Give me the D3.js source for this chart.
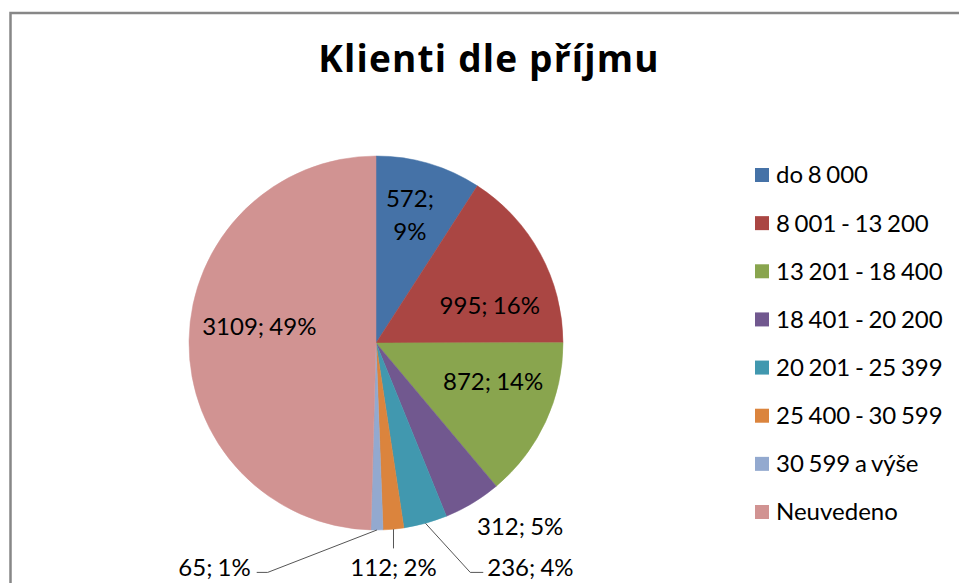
<!DOCTYPE html>
<html>
<head>
<meta charset="utf-8">
<script src="https://cdn.jsdelivr.net/npm/d3@7"></script>
<style>
  html, body { margin: 0; padding: 0; background: #fff; }
  svg { display: block; }
</style>
</head>
<body>
<script>
// ---- data ----
const title = "Klienti dle příjmu";
const categories = ["do 8 000", "8 001 - 13 200", "13 201 - 18 400", "18 401 - 20 200",
                    "20 201 - 25 399", "25 400 - 30 599", "30 599 a výše", "Neuvedeno"];
const values = [572, 995, 872, 312, 236, 112, 65, 3109];
const percents = [9, 16, 14, 5, 4, 2, 1, 49];
const colors = ["#4572A7", "#AA4643", "#89A54E", "#71588F", "#4198AF", "#DB843D", "#93A9CF", "#D19392"];

// ---- layout ----
const W = 959, H = 583;
const cx = 376, cy = 343, R = 187;
const font = "Lato, 'Open Sans', sans-serif";
const fs = 24;

// label placement (style): inside labels via radius factor + angle nudge; outside labels
const labelCfg = [
  {mode: "in", rf: 0.71, da: -1.6, lines: true},
  {mode: "in", rf: 0.64, da: 10.5},
  {mode: "in", rf: 0.66, da: -6.6},
  {mode: "out", rf: 1.25, da: -7},
  {mode: "leaderR", dx: 0.595},
  {mode: "leaderV"},
  {mode: "leaderL", dx: -0.67},
  {mode: "in", rf: 0.63, da: 7}
];

const svg = d3.select("body").append("svg").attr("width", W).attr("height", H);

// frame
svg.append("rect").attr("x", 10.5).attr("y", 13).attr("width", W + 20).attr("height", H + 20)
  .attr("fill", "#fff").attr("stroke", "#878787").attr("stroke-width", 2.5);

// title
svg.append("text").attr("x", 489).attr("y", 72).attr("text-anchor", "middle")
  .attr("font-family", "'Open Sans', Lato, sans-serif").attr("font-weight", "bold").attr("font-size", 37)
  .attr("letter-spacing", 1.2)
  .attr("fill", "#000").text(title);

const data = categories.map((c, i) => ({cat: c, value: values[i], pct: percents[i], color: colors[i], cfg: labelCfg[i]}));

const pie = d3.pie().value(d => d.value).sort(null);
const arcs = pie(data);
const arc = d3.arc().innerRadius(0).outerRadius(R);

const g = svg.append("g").attr("transform", `translate(${cx},${cy})`);
g.selectAll("path.slice").data(arcs).join("path").attr("class", "slice")
  .attr("d", arc).attr("fill", d => d.data.color).attr("stroke", d => d.data.color).attr("stroke-width", 0.5);

const deg = Math.PI / 180;
function polar(a, r) { return [Math.sin(a) * r, -Math.cos(a) * r]; }

const labelG = g.append("g").attr("font-family", font).attr("font-size", fs).attr("fill", "#000")
  .attr("word-spacing", -1);
const labelY = 1.2 * R;

arcs.forEach(d => {
  const cfg = d.data.cfg;
  const mid = (d.startAngle + d.endAngle) / 2;
  const txt = `${d.data.value}; ${d.data.pct}%`;
  if (cfg.mode === "in" || cfg.mode === "out") {
    const [x, y] = polar(mid + cfg.da * deg, cfg.rf * R);
    if (cfg.lines) {
      const t = labelG.append("text").attr("text-anchor", "middle");
      t.append("tspan").attr("x", x).attr("y", y - 16).attr("dy", "0.35em").text(`${d.data.value};`);
      t.append("tspan").attr("x", x).attr("y", y + 17).attr("dy", "0.35em").text(`${d.data.pct}%`);
    } else {
      labelG.append("text").attr("x", x).attr("y", y).attr("dy", "0.35em")
        .attr("text-anchor", "middle").text(txt);
    }
  } else {
    const [ax, ay] = polar(mid, R);
    let pts, tx, anchor;
    if (cfg.mode === "leaderR") {
      tx = cfg.dx * R;
      pts = [[ax, ay], [tx - 17, labelY + 5], [tx - 4, labelY + 5]];
      anchor = "start";
    } else if (cfg.mode === "leaderL") {
      tx = cfg.dx * R;
      pts = [[ax, ay], [tx + 17, labelY + 5], [tx + 6, labelY + 5]];
      anchor = "end";
    } else {
      tx = ax;
      pts = [[ax, ay], [ax, labelY - 19]];
      anchor = "middle";
    }
    labelG.append("path").attr("d", d3.line()(pts)).attr("fill", "none")
      .attr("stroke", "#555").attr("stroke-width", 1);
    labelG.append("text").attr("x", tx).attr("y", labelY).attr("dy", "0.35em")
      .attr("text-anchor", anchor).text(txt);
  }
});

// legend
const legendY = d3.scalePoint().domain(categories).range([175, 512]);
const lg = svg.append("g").attr("font-family", font).attr("font-size", fs).attr("word-spacing", -1.5);
const items = lg.selectAll("g").data(data).join("g")
  .attr("transform", d => `translate(755,${legendY(d.cat)})`);
items.append("rect").attr("x", 0).attr("y", -7).attr("width", 14).attr("height", 14)
  .attr("fill", d => d.color);
items.append("text").attr("x", 21).attr("y", 0).attr("dy", "0.35em").attr("fill", "#000")
  .text(d => d.cat);
</script>
</body>
</html>
